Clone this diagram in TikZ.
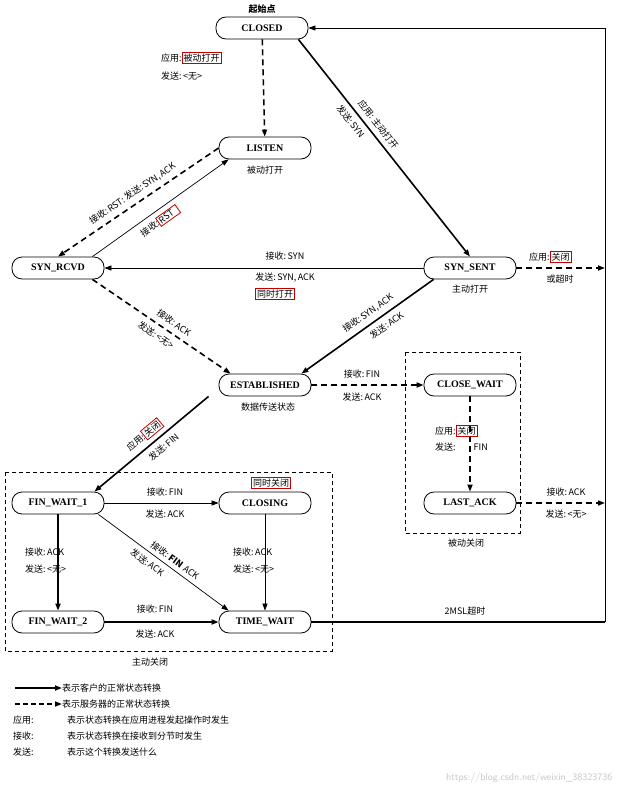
\documentclass[tikz,border=0pt]{standalone}
\usepackage{fontspec}
\setmainfont{Liberation Serif}
\newfontfamily\cjk{Noto Sans CJK SC}
\usetikzlibrary{arrows.meta}
\begin{document}
\begin{tikzpicture}[x=1pt,y=-1pt,
 st/.style={draw,thick,rounded corners=10pt,minimum width=92pt,minimum height=22pt,font=\bfseries,inner sep=1pt},
 lb/.style={font=\cjk\small,inner sep=1pt},
 rb/.style={draw=red!75!black,thick,inner sep=1.5pt},
 cl/.style={-{Triangle[length=7pt,width=5pt]},line width=1.6pt},
 sv/.style={-{Triangle[length=7pt,width=5pt]},line width=1.6pt,dash pattern=on 6pt off 4pt},
 tn/.style={-{Triangle[length=7pt,width=5pt]},line width=0.7pt},
 bx/.style={draw,thick,dash pattern=on 4pt off 3pt}]
\useasboundingbox (0,0) rectangle (621,800);
\fill[white] (0,0) rectangle (621,800);
% boxes
\draw[bx] (405,352) rectangle (520,533);
\node[lb] (pc) at (466,543) {被动关闭};
\draw[bx] (5,472) rectangle (332,651);
\node[lb] (ac) at (150,662) {主动关闭};
% states
\node[st] (closed) at (262,28) {CLOSED};
\node[lb,font=\cjk\small\bfseries] (start) at (262,9) {起始点};
\node[st] (listen) at (265,148) {LISTEN};
\node[lb] at (265,170) {被动打开};
\node[st] (rcvd) at (58,268) {SYN\_RCVD};
\node[st] (sent) at (470,268) {SYN\_SENT};
\node[lb] at (470,289) {主动打开};
\node[st] (est) at (265,385) {ESTABLISHED};
\node[lb] at (268,407) {数据传送状态};
\node[st] (cw) at (470,385) {CLOSE\_WAIT};
\node[st] (la) at (470,503) {LAST\_ACK};
\node[st] (fw1) at (58,503) {FIN\_WAIT\_1};
\node[st] (cls) at (265,503) {CLOSING};
\node[st] (fw2) at (58,622) {FIN\_WAIT\_2};
\node[st] (tw) at (265,622) {TIME\_WAIT};
% CLOSED -> LISTEN
\draw[sv] (closed) -- (listen);
\node[lb,anchor=west] at (160,58) {应用:\tikz[baseline=(t.base)]\node[rb,inner sep=1.5pt](t){被动打开};};
\node[lb,anchor=west] at (160,76) {发送:\,<无>};
% CLOSED -> SYN_SENT
\path (closed.south east) ++(-10,0) coordinate (c1);
\draw[cl] (c1) -- (sent.north)
 node[lb,sloped,pos=0.42,above=4pt] {应用:\,主动打开} node[lb,sloped,pos=0.35,below=4pt] {发送:\,SYN};
% LISTEN - SYN_RCVD
\draw[sv] (listen.west) -- (rcvd.north) node[lb,sloped,midway,above=4pt] {接收:\,RST:\,发送:\,SYN,\,ACK};
\path (rcvd.north east) ++(-12,0) coordinate (c2);
\draw[tn] (c2) -- ([xshift=10pt]listen.south west)
 node[lb,sloped,pos=0.45,below=4pt] {接收:\tikz[baseline=(t.base)]\node[rb](t){RST\,\,\,};};
% SYN_SENT -> SYN_RCVD
\draw[tn] (sent) -- (rcvd);
\node[lb] at (285,256) {接收:\,SYN};
\node[lb] at (285,278) {发送:\,SYN,\,ACK};
\node[lb,rb] at (275,294) {同时打开};
% SYN_RCVD -> EST
\draw[sv] ([xshift=-12pt]rcvd.south east) -- ([xshift=12pt]est.north west)
 node[lb,sloped,pos=0.55,above=4pt] {接收:\,ACK} node[lb,sloped,pos=0.5,below=4pt] {发送:\,<无>};
% SYN_SENT -> EST
\draw[cl] ([xshift=10pt]sent.south west) -- ([xshift=-10pt]est.north east)
 node[lb,sloped,pos=0.45,above=4pt] {接收:\,SYN,\,ACK} node[lb,sloped,pos=0.4,below=4pt] {发送:\,ACK};
% SYN_SENT -> right line
\coordinate (r1) at (605,268);
\draw[sv] (sent) -- (r1);
\node[lb,anchor=west] at (528,257) {应用:\tikz[baseline=(t.base)]\node[rb](t){关闭};};
\node[lb] at (560,279) {或超时};
% EST -> CLOSE_WAIT
\draw[sv] (est) -- (cw);
\node[lb] at (362,374) {接收:\,FIN};
\node[lb] at (362,397) {发送:\,ACK};
% CLOSE_WAIT -> LAST_ACK
\draw[sv] (cw) -- (la);
\node[lb,anchor=west] at (434,431) {应用:\tikz[baseline=(t.base)]\node[rb](t){关闭};};
\node[lb,anchor=west] at (434,447) {发送:\qquad FIN};
% LAST_ACK -> right
\coordinate (r2) at (605,503);
\draw[sv] (la) -- (r2);
\node[lb] at (566,492) {接收:\,ACK};
\node[lb] at (566,514) {发送:\,<无>};
% EST -> FIN_WAIT_1
\draw[cl] ([xshift=-10pt]est.south west) -- ([xshift=-10pt]fw1.north east)
 node[lb,sloped,pos=0.5,above=4pt] {应用:\tikz[baseline=(t.base)]\node[rb](t){关闭};} node[lb,sloped,pos=0.45,below=4pt] {发送:\,FIN};
% FIN_WAIT_1 -> CLOSING
\draw[tn] (fw1) -- (cls);
\node[lb] at (165,492) {接收:\,FIN};
\node[lb] at (165,514) {发送:\,ACK};
\node[lb,rb] at (271,483) {同时关闭};
% FIN_WAIT_1 -> TIME_WAIT
\draw[tn] ([xshift=-6pt]fw1.south east) -- ([xshift=10pt]tw.north west)
 node[lb,sloped,pos=0.55,above=3pt] {接收:\,\textbf{FIN}\,\,ACK} node[lb,sloped,pos=0.42,below=4pt] {发送:\,ACK};
% FIN_WAIT_1 -> FIN_WAIT_2
\draw[cl] (fw1) -- (fw2);
\node[lb,anchor=west] at (24,552) {接收:\,ACK};
\node[lb,anchor=west] at (24,569) {发送:\,<无>};
% CLOSING -> TIME_WAIT
\draw[tn] (cls) -- (tw);
\node[lb,anchor=west] at (232,552) {接收:\,ACK};
\node[lb,anchor=west] at (232,569) {发送:\,<无>};
% FIN_WAIT_2 -> TIME_WAIT
\draw[cl] (fw2) -- (tw);
\node[lb] at (155,609) {接收:\,FIN};
\node[lb] at (155,634) {发送:\,ACK};
% TIME_WAIT -> CLOSED
\coordinate (r3) at (605,622);
\coordinate (r4) at (605,28);
\draw[line width=1.6pt] (tw) -- (r3);
\draw[tn] (r3) -- (r4) -- (closed);
\node[lb] at (465,611) {2MSL超时};
% legend
\coordinate (l1) at (15,688); \coordinate (l2) at (62,688);
\draw[cl] (l1) -- (l2);
\node[lb,anchor=west] at (61,688) {表示客户的正常状态转换};
\coordinate (l3) at (15,704); \coordinate (l4) at (62,704);
\draw[sv,dash pattern=on 5pt off 3pt] (l3) -- (l4);
\node[lb,anchor=west] at (61,704) {表示服务器的正常状态转换};
\node[lb,anchor=west] at (12,720) {应用:};
\node[lb,anchor=west] at (66,720) {表示状态转换在应用进程发起操作时发生};
\node[lb,anchor=west] at (12,736) {接收:};
\node[lb,anchor=west] at (66,736) {表示状态转换在接收到分节时发生};
\node[lb,anchor=west] at (12,752) {发送:};
\node[lb,anchor=west] at (66,752) {表示这个转换发送什么};
\node[font=\sffamily,text=black!22,anchor=east] at (616,778) {https://blog.csdn.net/weixin\_38323736};
\end{tikzpicture}
\end{document}
